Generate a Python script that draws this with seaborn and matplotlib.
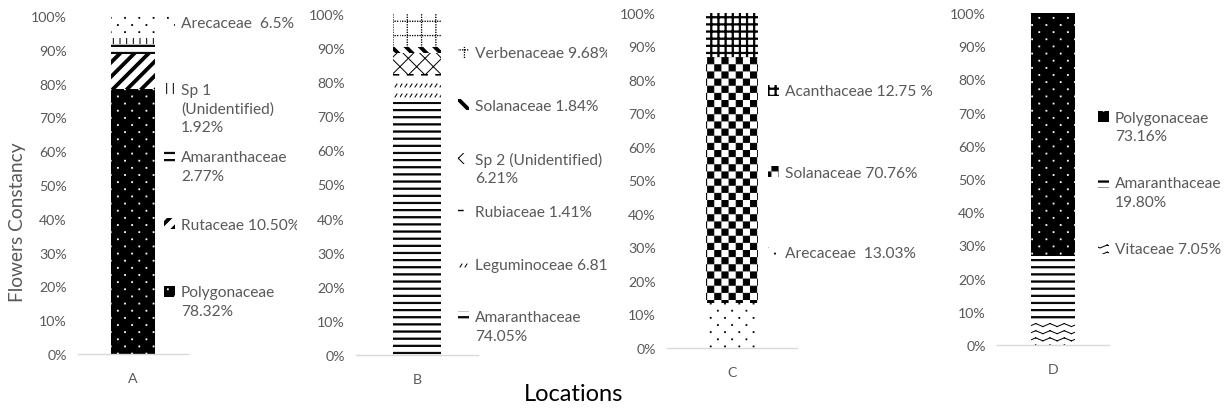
import warnings

import numpy as np
import pandas as pd
import matplotlib
matplotlib.use("Agg")
import matplotlib.pyplot as plt
from matplotlib import hatch as mhatch
from matplotlib.path import Path
from matplotlib.patches import Rectangle
from matplotlib.legend import Legend
from matplotlib.transforms import Bbox
from matplotlib.ticker import PercentFormatter
import seaborn as sns

warnings.filterwarnings("ignore")

# ---------------------------------------------------------------- data
locations = ["A", "B", "C", "D"]

# families listed from the bottom of each stack to the top
families_a = ["Polygonaceae", "Rutaceae", "Amaranthaceae", "Sp 1 (Unidentified)", "Arecaceae"]
values_a = [78.32, 10.50, 2.77, 1.92, 6.5]
legend_a = ["Polygonaceae\n78.32%", "Rutaceae 10.50%", "Amaranthaceae\n2.77%",
            "Sp 1\n(Unidentified)\n1.92%", "Arecaceae  6.5%"]

families_b = ["Amaranthaceae", "Leguminoceae", "Rubiaceae", "Sp 2 (Unidentified)",
              "Solanaceae", "Verbenaceae"]
values_b = [74.05, 6.81, 1.41, 6.21, 1.84, 9.68]
legend_b = ["Amaranthaceae\n74.05%", "Leguminoceae 6.81%", "Rubiaceae 1.41%",
            "Sp 2 (Unidentified)\n6.21%", "Solanaceae 1.84%", "Verbenaceae 9.68%"]

families_c = ["Arecaceae", "Solanaceae", "Acanthaceae"]
values_c = [13.03, 70.76, 12.75]
legend_c = ["Arecaceae  13.03%", "Solanaceae 70.76%", "Acanthaceae 12.75 %"]

families_d = ["Vitaceae", "Amaranthaceae", "Polygonaceae"]
values_d = [7.05, 19.80, 73.16]
legend_d = ["Vitaceae 7.05%", "Amaranthaceae\n19.80%", "Polygonaceae\n73.16%"]

# fill pattern per segment: (face colour, pattern colour, pattern code)
styles_a = [("black", "white", "d"), ("white", "black", "r"), ("white", "black", "H"),
            ("white", "black", "v"), ("white", "black", "d")]
styles_b = [("white", "black", "H"), ("white", "black", "l"), ("white", "black", "h"),
            ("white", "black", "xx"), ("white", "black", "R"), ("white", "black", "g")]
styles_c = [("white", "black", "d"), ("white", "black", "c"), ("white", "black", "HV")]
styles_d = [("white", "black", "w"), ("white", "black", "H"), ("black", "white", "d")]

# ---------------------------------------------------- monochrome patterns
PX = 0.01  # one pixel of the 100 px hatch tile at 100 dpi


def _rect(x, y, w, h):
    return ([(x, y), (x + w, y), (x + w, y + h), (x, y + h), (x, y)],
            [Path.MOVETO, Path.LINETO, Path.LINETO, Path.LINETO, Path.CLOSEPOLY])


def _poly(pts):
    return (list(pts) + [pts[0]],
            [Path.MOVETO] + [Path.LINETO] * (len(pts) - 1) + [Path.CLOSEPOLY])


def _seg(x0, y0, x1, y1):
    return [(x0, y0), (x1, y1)], [Path.MOVETO, Path.LINETO]


def _tile(parts):
    verts, codes = [], []
    for v, c in parts:
        verts += v
        codes += c
    return np.array(verts, float), np.array(codes, dtype=Path.code_type)


def _build_tiles():
    t = {}
    n = 14
    s = 1 / n
    # checkerboard
    t["c"] = _tile([_rect(i * s + 0.5 * PX, j * s + 0.5 * PX, s - PX, s - PX)
                    for i in range(n) for j in range(n) if (i + j) % 2 == 0])
    # sparse staggered dots
    parts = []
    for r in range(14):
        off = (r % 2) / 14
        for c in range(7):
            x = c / 7 + off + 1 / 28
            y = r / 14 + 1 / 28
            parts.append(_rect(x - 0.4 * PX, y - 0.4 * PX, 0.8 * PX, 0.8 * PX))
    t["d"] = _tile(parts)
    # bold horizontal / vertical rules
    t["H"] = _tile([_rect(0, r / 14 + 1 / 28, 1, 1.2 * PX) for r in range(14)])
    t["V"] = _tile([_rect(r / 14 + 1 / 28, 0, 1.2 * PX, 1) for r in range(14)])
    # thin vertical rules
    t["v"] = _tile([_seg(k / 15, 0, k / 15, 1) for k in range(15)])
    # wide diagonal stripes
    w = 4 * PX
    t["r"] = _tile([_poly([(k / 7, 0), (k / 7 + w, 0), (k / 7 + w + 1, 1), (k / 7 + 1, 1)])
                    for k in range(-8, 8)])
    t["R"] = _tile([_poly([(k / 7, 1), (k / 7 + w, 1), (k / 7 + w + 1, 0), (k / 7 + 1, 0)])
                    for k in range(-8, 8)])
    # wave
    parts = []
    for r in range(14):
        y0 = r / 14 + 0.02
        for k in range(7):
            x0 = k / 7
            parts.append(_seg(x0, y0, x0 + 1 / 14, y0 + 0.03))
            parts.append(_seg(x0 + 1 / 14, y0 + 0.03, x0 + 1 / 7, y0))
    t["w"] = _tile(parts)
    # dotted grid
    parts = []
    for i in range(7):
        p = i / 7 + 0.5 / 7
        for q in np.arange(0, 1, 0.025):
            parts.append(_rect(p, q, 0.3 * PX, 0.3 * PX))
            parts.append(_rect(q, p, 0.3 * PX, 0.3 * PX))
    t["g"] = _tile(parts)
    # dashed horizontal
    parts = []
    for r in range(14):
        off = (r % 2) / 14
        for k in range(7):
            parts.append(_rect(k / 7 + off, r / 14 + 1 / 28, 0.06, 0.4 * PX))
    t["h"] = _tile(parts)
    # short upward dashes
    parts = []
    for r in range(10):
        for k in range(20):
            x, y = k / 20, r / 10 + 0.03
            parts.append(_seg(x, y, x + 0.02, y + 0.03))
    t["l"] = _tile(parts)
    return t


TILES = _build_tiles()


class TileHatch(mhatch.HatchPatternBase):
    def __init__(self, hatch, density):
        chunks = [TILES[ch] for ch in (hatch or "") if ch in TILES]
        if chunks:
            self.verts = np.concatenate([c[0] for c in chunks])
            self.codes = np.concatenate([c[1] for c in chunks])
        else:
            self.verts = np.empty((0, 2))
            self.codes = np.empty(0, dtype=Path.code_type)
        self.num_vertices = len(self.verts)

    def set_vertices_and_codes(self, vertices, codes):
        vertices[:] = self.verts
        codes[:] = self.codes


mhatch._hatch_types.append(TileHatch)

# ------------------------------------------------------------- styling
sns.set_theme(style="white")
plt.rcParams["font.family"] = ["Lato", "DejaVu Sans"]
plt.rcParams["hatch.linewidth"] = 0.72
GREY = "#595959"

W, H = 1228, 410
fig = plt.figure(figsize=(W / 100, H / 100), dpi=100)
fig.patch.set_facecolor("white")

panels = [
    (families_a, values_a, legend_a, styles_a),
    (families_b, values_b, legend_b, styles_b),
    (families_c, values_c, legend_c, styles_c),
    (families_d, values_d, legend_d, styles_d),
]

# plot area: left, right, y of 0 %, y of 100 % (pixels)
panel_px = [(78, 188, 355, 17), (356, 478, 356, 15), (667, 797, 349, 14), (997, 1109, 346, 14)]
# legend: handle x, centre of first entry, entry pitch, right clip
legend_px = [(164, 21, 67.5, 297), (458, 52, 52.8, 607), (768, 90, 81, None), (1098, 116, 66, None)]

TICK_FS = 10.2
LEG_FS = 11.2
for loc, (fams, vals, labs, sty), (l, r, y0, y1), (lx, ly, pitch, clip) in zip(
        locations, panels, panel_px, legend_px):
    ax = fig.add_axes([l / W, 1 - y0 / H, (r - l) / W, (y0 - y1) / H])
    df = pd.DataFrame({"location": loc, "family": fams, "value": vals})
    df["share"] = df["value"] / df["value"].sum()
    df["base"] = df["share"].cumsum() - df["share"]

    handles = []
    for (_, row), (fc, hc, hp) in zip(df.iterrows(), sty):
        sns.barplot(x=[row["location"]], y=[row["share"]], bottom=row["base"],
                    width=0.4, facecolor=fc, edgecolor=hc, hatch=hp,
                    linewidth=0, errorbar=None, ax=ax)
        handles.append(ax.patches[-1])

    ax.set_ylim(0, 1)
    ax.set_xlim(-0.5, 0.5)
    ax.set_yticks(np.linspace(0, 1, 11))
    ax.yaxis.set_major_formatter(PercentFormatter(1.0, decimals=0))
    ax.tick_params(axis="y", length=0, pad=8, labelsize=TICK_FS, labelcolor=GREY)
    ax.tick_params(axis="x", length=0, pad=13, labelsize=TICK_FS, labelcolor=GREY)
    ax.set_xlabel("")
    ax.set_ylabel("")
    for side in ("left", "right", "top"):
        ax.spines[side].set_visible(False)
    ax.spines["bottom"].set_color("#d9d9d9")
    ax.spines["bottom"].set_linewidth(1.0)
    ax.patch.set_alpha(0)

    # legend entries, listed from the top of the stack down
    for i, (h, lab) in enumerate(zip(handles[::-1], labs[::-1])):
        lines = lab.split("\n")
        hs = [h] + [Rectangle((0, 0), 1, 1, visible=False) for _ in lines[1:]]
        yc = ly + i * pitch
        leg = Legend(fig, hs, lines, loc="upper left",
                     bbox_to_anchor=(lx / W, 1 - (yc - 4.5) / H),
                     bbox_transform=fig.transFigure, frameon=False,
                     fontsize=LEG_FS, handlelength=0.7, handleheight=0.7,
                     handletextpad=0.38, labelspacing=0.27, borderpad=0,
                     borderaxespad=0, labelcolor=GREY)
        if clip is not None:
            for t in leg.get_texts():
                t.set_clip_box(Bbox.from_extents(0, 0, clip, H))
                t.set_clip_on(True)
        fig.add_artist(leg)

fig.text(18 / W, 1 - 222 / H, "Flowers Constancy", rotation=90, ha="center",
         va="center", fontsize=13.8, color=GREY)
fig.text(574 / W, 1 - 395 / H, "Locations", ha="center", va="center",
         fontsize=17, color="black")

fig.savefig("out.png", dpi=100)
